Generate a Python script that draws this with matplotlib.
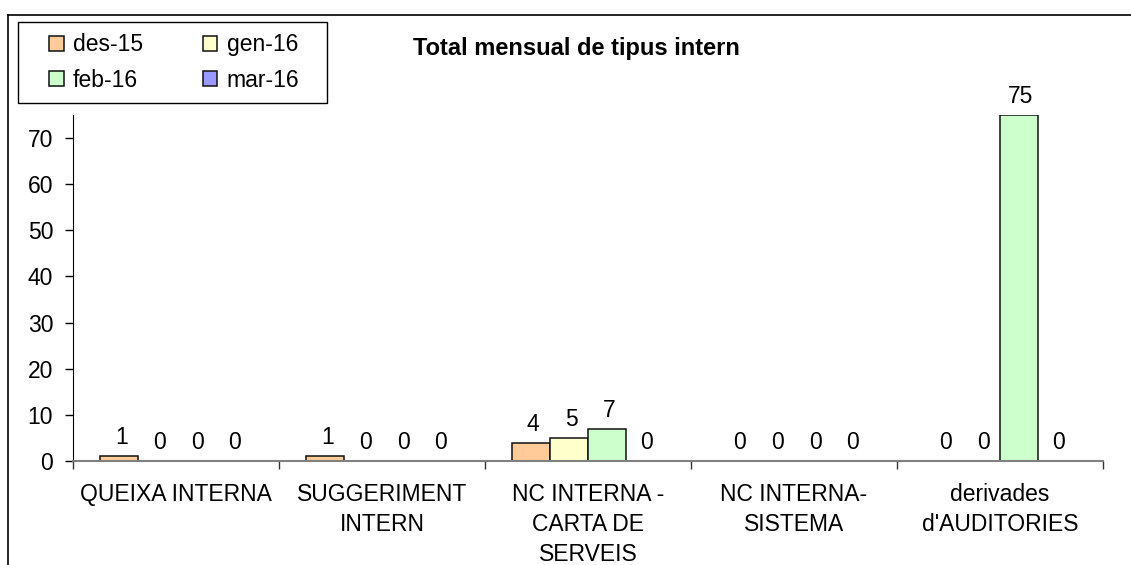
import numpy as np
import matplotlib.pyplot as plt
from matplotlib.lines import Line2D
from matplotlib.patches import Rectangle

plt.rcParams['font.family'] = ['Liberation Sans', 'DejaVu Sans']

categories = ['QUEIXA INTERNA', 'SUGGERIMENT\nINTERN', 'NC INTERNA -\nCARTA DE\nSERVEIS',
              'NC INTERNA-\nSISTEMA', "derivades\nd'AUDITORIES"]
months = ['des-15', 'gen-16', 'feb-16', 'mar-16']
des15 = [1, 1, 4, 0, 0]
gen16 = [0, 0, 5, 0, 0]
feb16 = [0, 0, 7, 0, 75]
mar16 = [0, 0, 0, 0, 0]
series = [des15, gen16, feb16, mar16]
colors = ['#FFCC99', '#FFFFCC', '#CCFFCC', '#9999FF']

W, H = 1131, 565
fig = plt.figure(figsize=(W / 100, H / 100), dpi=100)
ax = fig.add_axes([73 / W, 1 - 461 / H, 1030 / W, 346 / H])

fs = 16.5
x = np.arange(len(categories))
w = 0.184
handles = []
for i, (vals, c, m) in enumerate(zip(series, colors, months)):
    pos = x + (i - 1.5) * w
    bars = ax.bar(pos, vals, w, color=c, edgecolor='#111111', linewidth=1.1, label=m)
    handles.append(bars)
    for xi, v in zip(pos, vals):
        ax.annotate(str(v), (xi, v), xytext=(1.5, 5), textcoords='offset points',
                    ha='center', va='bottom', fontsize=fs)

ax.set_xlim(-0.5, 4.5)
ax.set_ylim(0, 75)
ax.set_yticks(range(0, 80, 10))
ax.tick_params(axis='y', labelsize=fs, length=5.8, width=1, pad=8.5)
ax.set_xticks(x)
ax.set_xticklabels(categories, fontsize=fs, linespacing=1.38, va='top')
ax.tick_params(axis='x', length=0, pad=16)
ax.set_xticks(np.arange(-0.5, 5, 1), minor=True)
ax.tick_params(axis='x', which='minor', length=5.5, width=1, color='#333333')
ax.spines['top'].set_visible(False)
ax.spines['right'].set_visible(False)
ax.spines['bottom'].set_color('#808080')
ax.spines['bottom'].set_linewidth(1.5)

fig.text(576 / W, 1 - 49 / H, 'Total mensual de tipus intern',
         ha='center', va='center', fontsize=17, fontweight='bold')

# legend box drawn separately, entries ordered so rows read des/gen, feb/mar
fig.add_artist(Rectangle((18 / W, 1 - 103 / H), 309 / W, 81 / H, transform=fig.transFigure,
                         facecolor='white', edgecolor='black', lw=1.0))
order = [0, 2, 1, 3]
leg = fig.legend([handles[i] for i in order], [months[i] for i in order], ncol=2,
                 loc='center', bbox_to_anchor=(174 / W, 1 - 62.5 / H),
                 fontsize=fs, handlelength=0.65, handleheight=0.65, handletextpad=0.4,
                 columnspacing=2.6, borderpad=0, labelspacing=0.55, frameon=False)

# outer chart-area border (left and top visible)
fig.add_artist(Line2D([8 / W, 8 / W], [0, 1 - 15 / H], color='black', lw=1.2, transform=fig.transFigure))
fig.add_artist(Line2D([8 / W, 1], [1 - 15 / H, 1 - 15 / H], color='black', lw=1.2, transform=fig.transFigure))

fig.savefig('out.png', dpi=100)
